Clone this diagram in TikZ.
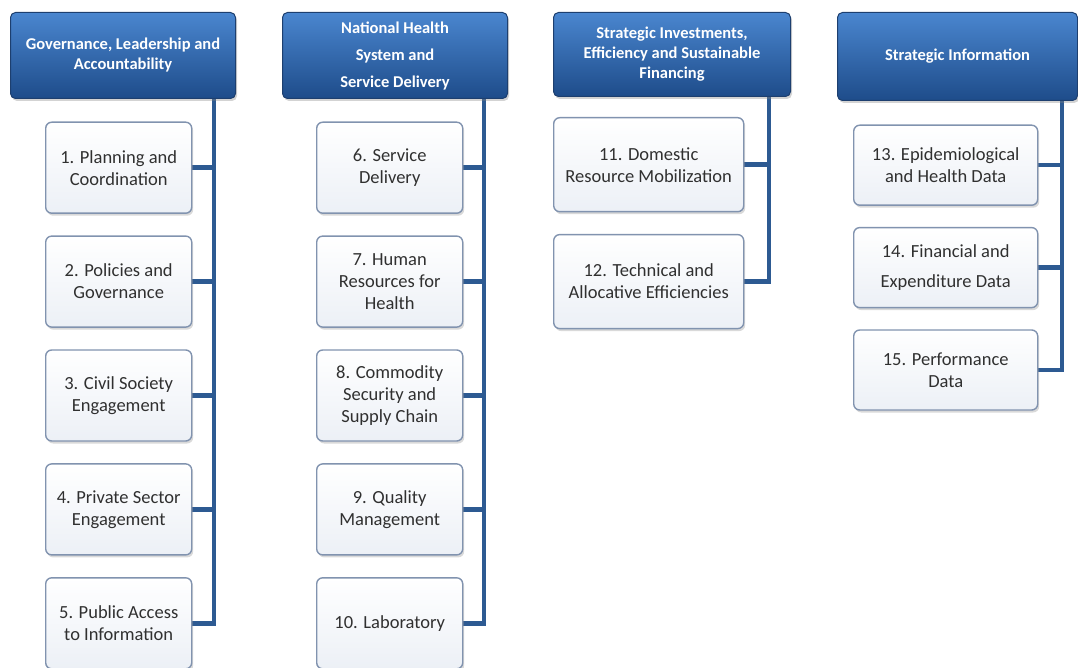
\documentclass[tikz,border=0pt]{standalone}
\usepackage{fontspec}
\setmainfont{Carlito}
\usepackage{tikz}
\usetikzlibrary{positioning, calc, shadows, backgrounds}
\definecolor{hdtop}{HTML}{4A86CF}
\definecolor{hdmid}{HTML}{2F69B2}
\definecolor{hdbot}{HTML}{1E4C8A}
\definecolor{hdline}{HTML}{1D3F6F}
\definecolor{boxline}{HTML}{8193AF}
\definecolor{boxbot}{HTML}{ECF0F6}
\definecolor{spinecol}{HTML}{2D5A92}
\definecolor{boxtext}{HTML}{303030}

\begin{document}
\begin{tikzpicture}[
  x=1pt, y=1pt,
  hd/.style={rectangle, rounded corners=5pt, draw=hdline, line width=1pt,
             top color=hdtop, middle color=hdmid, bottom color=hdbot,
             text=white, font=\bfseries\fontsize{16.5}{20}\selectfont,
             align=center, anchor=north west, inner sep=2pt,
             drop shadow={shadow xshift=1.5pt, shadow yshift=-2.5pt, opacity=.35}},
  item/.style={rectangle, rounded corners=6pt, draw=boxline, line width=1.4pt,
               top color=white, bottom color=boxbot, text=boxtext,
               font=\fontsize{18.5}{22}\selectfont, align=center, inner sep=2pt,
               drop shadow={shadow xshift=1.5pt, shadow yshift=-2.5pt, opacity=.3}},
  spine/.style={line width=4.5pt, spinecol}]
\useasboundingbox (0,0) rectangle (1078,-668);

\node[hd, minimum width=225pt, minimum height=86pt] (h1) at (10,-12)
  {Governance, Leadership and\\Accountability};
\node[hd, minimum width=225pt, minimum height=86pt] (h2) at (282,-12)
  {National Health\\[7pt]System and\\[7pt]Service Delivery};
\node[hd, minimum width=237pt, minimum height=84pt] (h3) at (553,-12)
  {Strategic Investments,\\Efficiency and Sustainable\\Financing};
\node[hd, minimum width=240pt, minimum height=88pt] (h4) at (837,-12)
  {Strategic Information};

\tikzset{c12/.style={item, minimum width=146pt, minimum height=91pt}}
\node[c12, below right=22.5pt and 35pt of h1.south west, anchor=north west] (b1) {1. Planning and\\Coordination};
\node[c12, below=21.5pt of b1] (b2) {2. Policies and\\Governance};
\node[c12, below=21.5pt of b2] (b3) {3. Civil Society\\Engagement};
\node[c12, below=21.5pt of b3] (b4) {4. Private Sector\\Engagement};
\node[c12, below=21.5pt of b4] (b5) {5. Public Access\\to Information};

\node[c12, below right=22.5pt and 34pt of h2.south west, anchor=north west] (b6) {6. Service\\Delivery};
\node[c12, below=21.5pt of b6] (b7) {7. Human\\Resources for\\Health};
\node[c12, below=21.5pt of b7] (b8) {8. Commodity\\Security and\\Supply Chain};
\node[c12, below=21.5pt of b8] (b9) {9. Quality\\Management};
\node[c12, below=21.5pt of b9] (b10) {10. Laboratory};

\tikzset{c3/.style={item, minimum width=190pt, minimum height=94pt}}
\node[c3, below right=20pt and 0pt of h3.south west, anchor=north west] (b11) {11. Domestic\\Resource Mobilization};
\node[c3, below=21.5pt of b11] (b12) {12. Technical and\\Allocative Efficiencies};

\tikzset{c4/.style={item, minimum width=184pt, minimum height=80pt}}
\node[c4, below right=23.5pt and 16pt of h4.south west, anchor=north west] (b13) {13. Epidemiological\\and Health Data};
\node[c4, below=21pt of b13] (b14) {14. Financial and\\[8pt]Expenditure Data};
\node[c4, below=21pt of b14] (b15) {15. Performance\\Data};

\coordinate (s1) at ($(h1.south east)+(-22pt,0)$);
\coordinate (s2) at ($(h2.south east)+(-24pt,0)$);
\coordinate (s3) at ($(h3.south east)+(-22pt,0)$);
\coordinate (s4) at ($(h4.south east)+(-16pt,0)$);

\begin{scope}[on background layer]
\draw[spine] (s1) |- (b5.east);
\foreach \b in {b1,b2,b3,b4} \draw[spine] (\b.east) -- (\b.east -| s1);
\draw[spine] (s2) |- (b10.east);
\foreach \b in {b6,b7,b8,b9} \draw[spine] (\b.east) -- (\b.east -| s2);
\draw[spine] (s3) |- (b12.east);
\draw[spine] (b11.east) -- (b11.east -| s3);
\draw[spine] (s4) |- (b15.east);
\foreach \b in {b13,b14} \draw[spine] (\b.east) -- (\b.east -| s4);
\end{scope}
\end{tikzpicture}
\end{document}
